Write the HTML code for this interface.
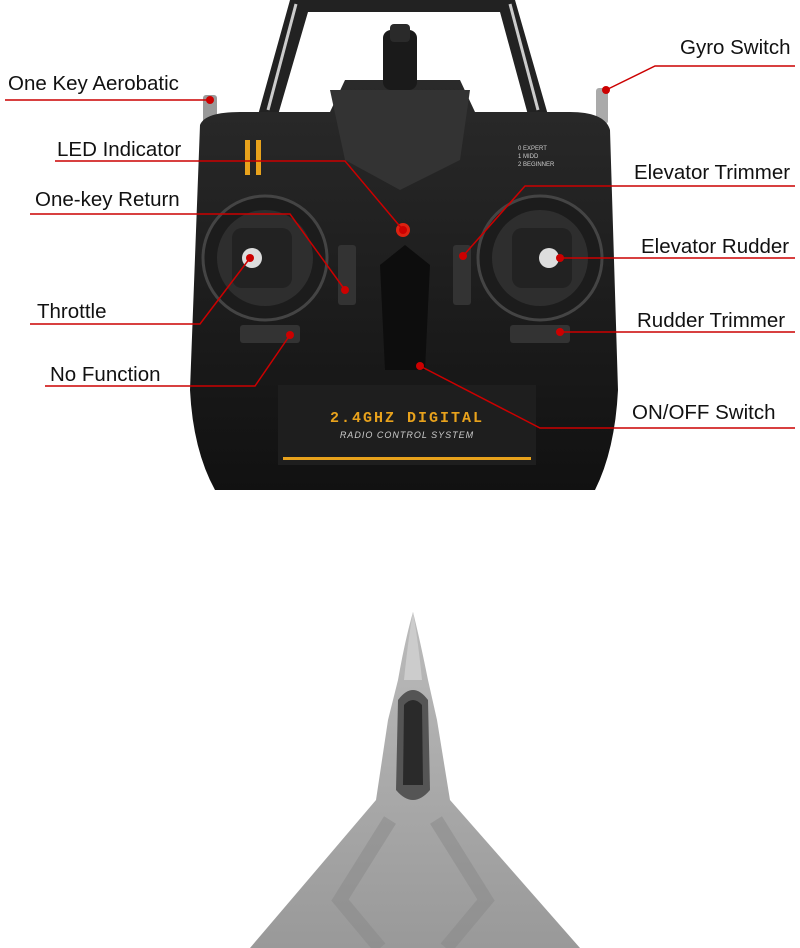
<!DOCTYPE html>
<html><head><meta charset="utf-8"><style>
body{margin:0;background:#fff;width:800px;height:948px;overflow:hidden;font-family:"Liberation Sans",sans-serif}
svg{position:absolute;left:0;top:0}
.l{position:absolute;font-size:20.5px;color:#111;white-space:nowrap}
</style></head><body>
<svg width="800" height="948" viewBox="0 0 800 948">
<defs>
<linearGradient id="b" x1="0" y1="0" x2="0" y2="1"><stop offset="0" stop-color="#2a2a2a"/><stop offset="1" stop-color="#111"/></linearGradient>
<linearGradient id="p" x1="0" y1="0" x2="0" y2="1"><stop offset="0" stop-color="#bbb"/><stop offset="1" stop-color="#999"/></linearGradient>
</defs>
<path d="M290 0 L258 115 L278 115 L308 12 L500 12 L528 115 L548 115 L515 0 Z" fill="#222"/>
<path d="M296 4 L268 110" stroke="#ccc" stroke-width="3"/><path d="M510 4 L538 110" stroke="#ccc" stroke-width="3"/>
<rect x="203" y="95" width="14" height="30" fill="#999" rx="3"/><rect x="596" y="88" width="12" height="36" fill="#aaa" rx="3"/>
<path d="M200 125 Q205 112 240 112 L330 112 L345 80 L460 80 L475 112 L570 112 Q605 112 610 130 L618 390 Q615 450 595 490 L215 490 Q193 450 190 390 Z" fill="url(#b)"/>
<path d="M330 90 L470 90 L460 160 L400 190 L345 160 Z" fill="#333"/>
<rect x="383" y="30" width="34" height="60" rx="8" fill="#1a1a1a"/><rect x="390" y="24" width="20" height="18" rx="4" fill="#2a2a2a"/>
<rect x="245" y="140" width="5" height="35" fill="#e8a21c"/><rect x="256" y="140" width="5" height="35" fill="#e8a21c"/>
<circle cx="265" cy="258" r="62" fill="#1c1c1c" stroke="#444" stroke-width="3"/>
<circle cx="265" cy="258" r="48" fill="#2e2e2e"/><rect x="232" y="228" width="60" height="60" rx="10" fill="#222"/>
<circle cx="252" cy="258" r="10" fill="#ddd"/>
<circle cx="540" cy="258" r="62" fill="#1c1c1c" stroke="#444" stroke-width="3"/>
<circle cx="540" cy="258" r="48" fill="#2e2e2e"/><rect x="512" y="228" width="60" height="60" rx="10" fill="#222"/>
<circle cx="549" cy="258" r="10" fill="#ddd"/>
<rect x="338" y="245" width="18" height="60" rx="3" fill="#333"/><rect x="453" y="245" width="18" height="60" rx="3" fill="#333"/>
<rect x="240" y="325" width="60" height="18" rx="3" fill="#333"/><rect x="510" y="325" width="60" height="18" rx="3" fill="#333"/>
<path d="M380 265 L405 245 L430 265 L425 370 L385 370 Z" fill="#0d0d0d"/>
<circle cx="403" cy="230" r="7" fill="#d21"/>
<rect x="278" y="385" width="258" height="80" fill="#1e1e1e"/>
<text x="407" y="422" text-anchor="middle" font-family="Liberation Mono" font-size="15" font-weight="bold" fill="#e8a21c" letter-spacing="2">2.4GHZ DIGITAL</text>
<text x="407" y="438" text-anchor="middle" font-family="Liberation Sans" font-size="9" font-style="italic" fill="#ccc" letter-spacing="1">RADIO CONTROL SYSTEM</text>
<rect x="283" y="457" width="248" height="3" fill="#e8a21c"/>
<text x="518" y="150" font-size="6" fill="#ccc">0 EXPERT</text><text x="518" y="158" font-size="6" fill="#ccc">1 MIDD</text><text x="518" y="166" font-size="6" fill="#ccc">2 BEGINNER</text>
<path d="M413 612 Q405 640 398 680 L388 720 L376 800 L250 948 L580 948 L450 800 L437 720 L428 680 Q420 640 413 612 Z" fill="url(#p)"/>
<path d="M413 612 Q408 640 404 680 L422 680 Q418 640 413 612Z" fill="#ccc"/>
<path d="M398 700 Q413 680 428 700 L430 790 Q413 810 396 790 Z" fill="#555"/>
<path d="M404 705 Q413 695 422 705 L423 785 L403 785 Z" fill="#2a2a2a"/>
<path d="M390 820 L340 900 L380 948 M436 820 L486 900 L446 948" stroke="#888" stroke-width="14" fill="none" opacity=".5"/>
<g stroke="#c00" stroke-width="1.5" fill="none">
<path d="M5 100 L210 100"/>
<path d="M55 161 L345 161 L403 230"/>
<path d="M30 214 L290 214 L345 290"/>
<path d="M30 324 L200 324 L250 258"/>
<path d="M45 386 L255 386 L290 335"/>
<path d="M795 66 L655 66 L606 90"/>
<path d="M795 186 L525 186 L463 256"/>
<path d="M560 258 L795 258"/>
<path d="M560 332 L795 332"/>
<path d="M795 428 L540 428 L420 366"/>
</g>
<g fill="#c00"><circle cx="210" cy="100" r="4"/><circle cx="403" cy="230" r="4"/><circle cx="345" cy="290" r="4"/><circle cx="250" cy="258" r="4"/><circle cx="290" cy="335" r="4"/><circle cx="606" cy="90" r="4"/><circle cx="463" cy="256" r="4"/><circle cx="560" cy="258" r="4"/><circle cx="560" cy="332" r="4"/><circle cx="420" cy="366" r="4"/></g>
</svg>
<div class="l" style="left:8px;top:72px">One Key Aerobatic</div>
<div class="l" style="left:57px;top:138px">LED Indicator</div>
<div class="l" style="left:35px;top:188px">One-key Return</div>
<div class="l" style="left:37px;top:300px">Throttle</div>
<div class="l" style="left:50px;top:363px">No Function</div>
<div class="l" style="left:680px;top:36px">Gyro Switch</div>
<div class="l" style="left:634px;top:161px">Elevator Trimmer</div>
<div class="l" style="left:641px;top:235px">Elevator Rudder</div>
<div class="l" style="left:637px;top:309px">Rudder Trimmer</div>
<div class="l" style="left:632px;top:401px">ON/OFF Switch</div>
</body></html>
